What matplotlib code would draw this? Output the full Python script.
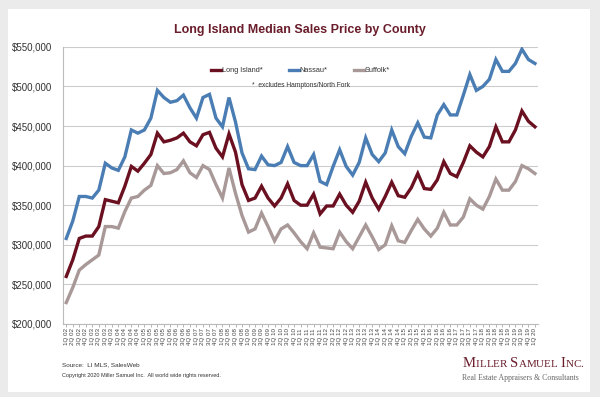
import matplotlib
matplotlib.use("Agg")
import matplotlib.pyplot as plt
from matplotlib.patches import Rectangle
from matplotlib.ticker import FuncFormatter

# quarterly labels 1Q 02 .. 1Q 20
quarters = ["%dQ %02d" % (q, y) for y in range(2, 20) for q in range(1, 5)] + ["1Q 20"]

long_island = [260, 281, 308, 311, 311, 323, 357, 355, 353, 374, 399, 393, 403, 414, 441, 430,
               432, 435, 441, 430, 425, 439, 442, 422, 411, 440, 417, 376, 356, 359, 374, 359,
               349, 359, 377, 356, 350, 350, 364, 339, 349, 349, 364, 350, 341, 355, 379, 359,
               345, 361, 379, 362, 360, 372, 390, 371, 370, 382, 405, 390, 386, 404, 425, 417,
               411, 424, 449, 430, 430, 445, 469, 456, 449]
nassau = [308, 330, 361, 361, 359, 369, 403, 397, 394, 411, 445, 441, 445, 460, 495, 486,
          480, 482, 489, 473, 460, 486, 490, 460, 449, 486, 455, 416, 396, 395, 412, 401,
          400, 404, 424, 404, 400, 400, 414, 380, 376, 399, 420, 399, 388, 404, 435, 414,
          405, 416, 445, 424, 415, 437, 454, 436, 435, 464, 477, 464, 464, 489, 515, 495,
          500, 509, 534, 519, 519, 529, 547, 534, 529]
suffolk = [227, 246, 268, 275, 281, 287, 323, 323, 321, 342, 359, 361, 369, 375, 400, 390,
           391, 395, 406, 391, 385, 400, 395, 376, 359, 397, 365, 337, 316, 320, 340, 323,
           305, 320, 325, 315, 304, 295, 315, 297, 296, 295, 316, 304, 295, 310, 325, 310,
           294, 300, 324, 305, 303, 318, 332, 320, 311, 321, 341, 325, 325, 335, 358, 350,
           345, 361, 383, 369, 369, 380, 400, 396, 390]

series = ["Long Island*", "Nassau*", "Suffolk*"]
colors = ["#6b1020", "#4a7db3", "#a89898"]

plt.rcParams["font.family"] = ["Liberation Sans", "DejaVu Sans"]

fig = plt.figure(figsize=(6, 3.97), dpi=100)
fig.patch.set_facecolor("#ebebeb")
fig.patches.append(Rectangle((8 / 600, 5 / 397), 582 / 600, 383 / 397, transform=fig.transFigure,
                             facecolor="white", edgecolor="none", zorder=-10))

ax = fig.add_axes([0.105, 0.184, 0.792, 0.698])
ax.set_zorder(5)
ax.set_facecolor("none")
x = list(range(len(quarters)))
for name, vals, c in zip(series, [long_island, nassau, suffolk], colors):
    ax.plot(x, [v * 1000 for v in vals], color=c, lw=2.4, label=name, solid_joinstyle="miter")

ax.set_ylim(200000, 550000)
ax.set_xlim(-0.5, len(quarters) - 0.5)
ax.set_yticks(range(200000, 550001, 50000))
ax.yaxis.set_major_formatter(FuncFormatter(lambda v, p: "${:,.0f}".format(v)))
ax.set_xticks(x)
ax.set_xticklabels(quarters, rotation=90, fontsize=4.5, color="#444444")
ax.tick_params(axis="y", labelsize=7, colors="#333333", length=0, pad=8)
ax.tick_params(axis="x", length=2, width=0.6, color="#aaaaaa", pad=1)
ax.grid(axis="y", color="#cccccc", lw=0.8)
ax.set_axisbelow(True)
for s in ["top", "right"]:
    ax.spines[s].set_visible(False)
for s in ["left", "bottom"]:
    ax.spines[s].set_color("#bbbbbb")
    ax.spines[s].set_linewidth(0.8)

leg = ax.legend(loc="upper center", bbox_to_anchor=(0.5, 0.95), ncol=3, frameon=False,
                fontsize=5.3, handlelength=1.4, handletextpad=0.05, columnspacing=3.6)
for t in leg.get_texts():
    t.set_color("#333333")
ax.text(0.5, 0.86, "*  excludes Hamptons/North Fork", transform=ax.transAxes, ha="center",
        va="center", fontsize=4.8, color="#333333")

fig.text(0.5, 0.925, "Long Island Median Sales Price by County", ha="center", va="center",
         fontsize=9, fontweight="bold", color="#6a1d2b")

fig.text(62 / 600, 1 - 365 / 397, "Source:  LI MLS, SalesWeb", fontsize=4.6, color="#333333",
         va="center")
fig.text(62 / 600, 1 - 375 / 397, "Copyright 2020 Miller Samuel Inc.  All world wide rights reserved.",
         fontsize=4, color="#333333", va="center")

# small caps logo
renderer = fig.canvas.get_renderer()
xpos = 463 / 600
for word in ["Miller", "Samuel", "Inc."]:
    for i, ch in enumerate(word):
        size = 10.5 if i == 0 else 7.9
        t = fig.text(xpos, 1 - 367 / 397, ch.upper(), fontsize=size, family="Liberation Serif",
                     color="#6a1d2b", va="baseline")
        bb = t.get_window_extent(renderer)
        xpos += bb.width / fig.bbox.width
    xpos += 3 / 600
fig.text(462 / 600, 1 - 378 / 397, "Real Estate Appraisers & Consultants", fontsize=5.6,
         family="Liberation Serif", color="#666666", va="center")

fig.savefig("out.png", dpi=100, facecolor=fig.get_facecolor())
